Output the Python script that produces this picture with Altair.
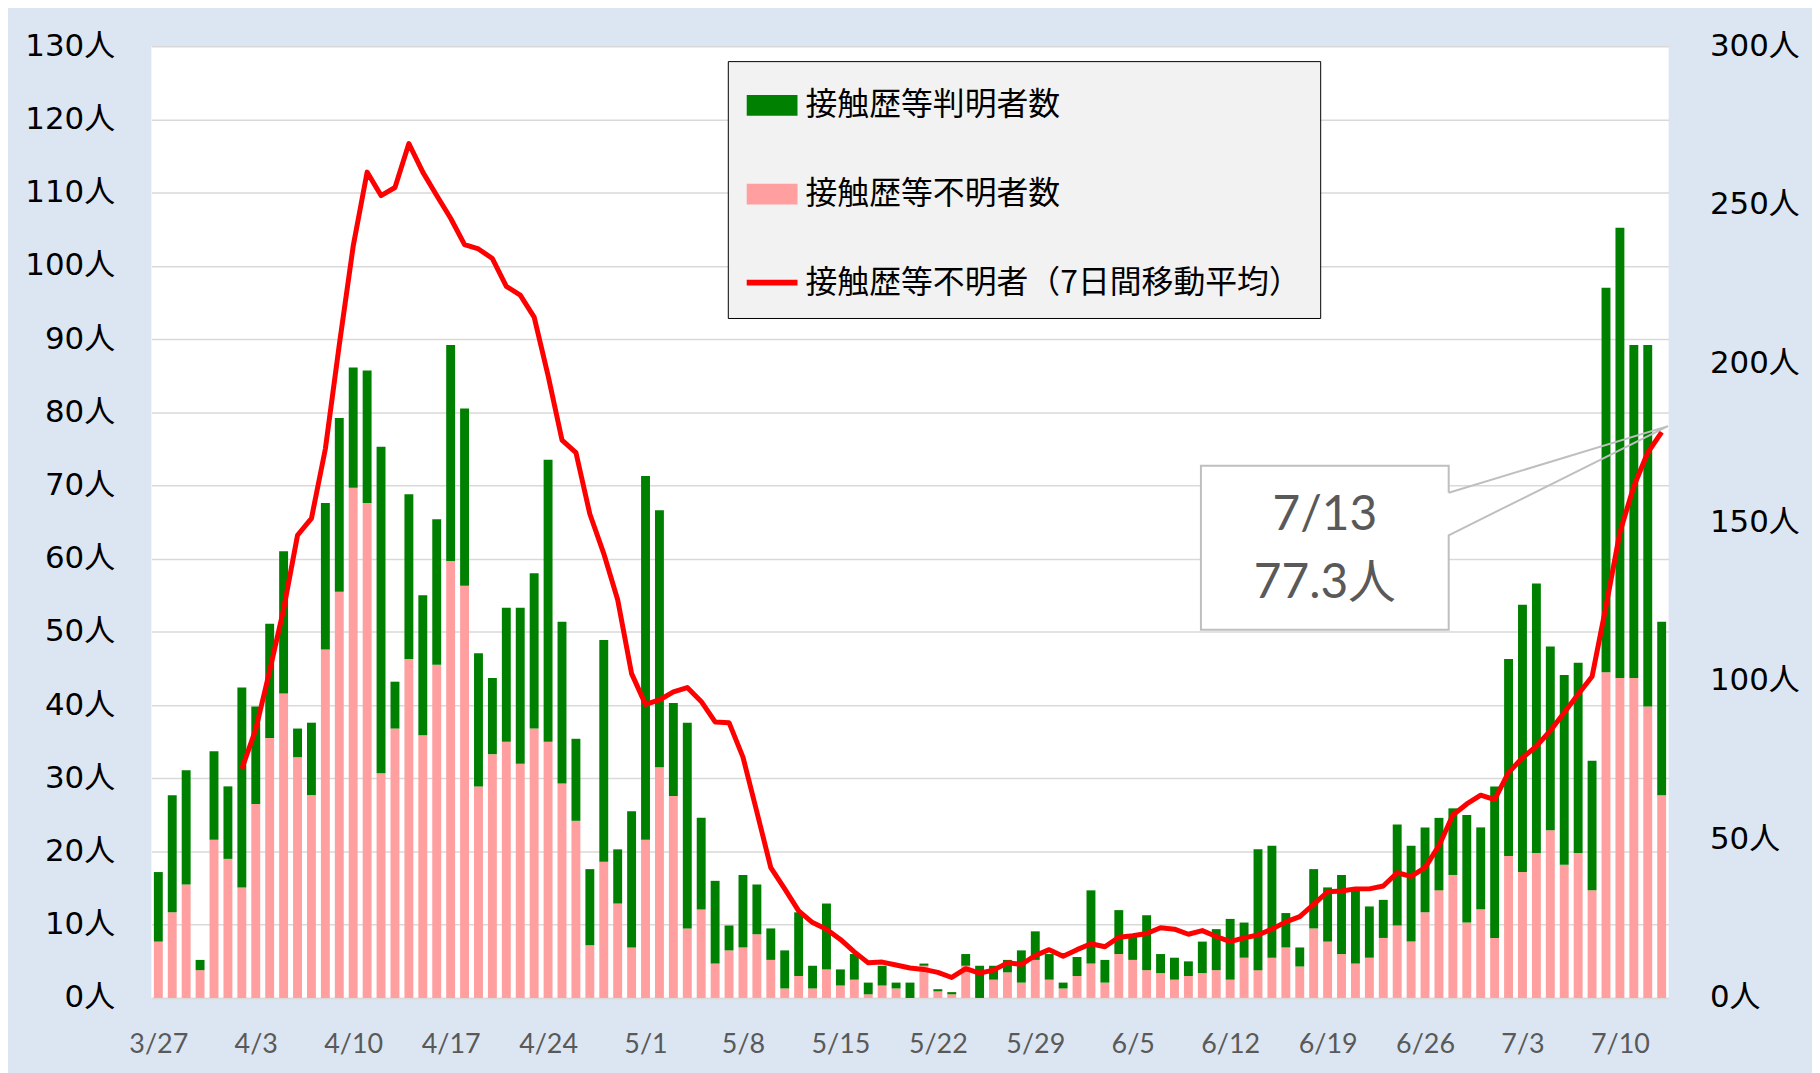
import altair as alt
import pandas as pd

# ---------------- data ----------------
dates = [f"{d.month}/{d.day}" for d in pd.date_range("2020-03-27", "2020-07-13", freq="D")]
tick_labels = dates[::7]

# 接触歴等不明者数 (pink, bottom of the stack)
unknown = [7.7, 11.7, 15.5, 3.8, 21.6, 19.0, 15.1, 26.5, 35.5, 41.6, 32.9, 27.7, 47.6, 55.5, 69.7, 67.6,
           30.7, 36.8, 46.3, 35.9, 45.5, 59.7, 56.3, 28.9, 33.3, 35.0, 32.0, 36.8, 35.0, 29.3, 24.2, 7.2,
           18.6, 12.9, 6.9, 21.6, 31.5, 27.6, 9.5, 12.1, 4.7, 6.5, 6.9, 8.7, 5.2, 1.3, 3.0, 1.3,
           3.9, 1.7, 2.5, 0.5, 1.7, 1.3, 0.0, 4.4, 0.9, 0.5, 4.4, 0.0, 2.5, 3.5, 2.1, 5.2, 2.5, 1.3,
           3.0, 4.7, 2.1, 6.0, 5.2, 3.8, 3.4, 2.5, 3.0, 3.4, 3.8, 2.5, 5.5, 3.8, 5.5, 6.9, 4.3, 9.5,
           7.7, 6.0, 4.7, 5.5, 8.2, 9.9, 7.7, 11.7, 14.7, 16.8, 10.3, 12.1, 8.2, 19.4, 17.2, 19.8, 22.9,
           18.2, 19.8, 14.7, 44.5, 43.7, 43.7, 39.8, 27.7]

# 接触歴等判明者数 (green, stacked on top)
known = [9.5, 16.0, 15.6, 1.4, 12.1, 9.9, 27.3, 13.3, 15.6, 19.4, 3.9, 9.9, 20.0, 23.7, 16.4, 18.1,
         44.6, 6.4, 22.5, 19.1, 19.9, 29.5, 24.2, 18.2, 10.4, 18.3, 21.3, 21.2, 38.5, 22.1, 11.2, 10.4,
         30.3, 7.4, 18.6, 49.7, 35.1, 12.7, 28.1, 12.5, 11.3, 3.4, 9.9, 6.8, 4.3, 5.2, 8.7, 3.1,
         9.0, 2.2, 3.5, 1.6, 2.7, 0.8, 2.1, 0.3, 0.3, 0.3, 1.6, 4.4, 1.9, 1.7, 4.4, 3.9, 3.5, 0.8,
         2.6, 10.0, 3.1, 6.0, 3.3, 7.5, 2.6, 3.0, 2.0, 4.3, 5.6, 8.3, 4.8, 16.5, 15.3, 4.7, 2.6, 8.1,
         7.4, 10.8, 10.0, 7.0, 5.2, 13.8, 13.1, 11.6, 9.9, 9.1, 14.7, 11.2, 20.7, 26.9, 36.5, 36.8, 25.1,
         25.9, 26.0, 17.7, 52.5, 61.5, 45.5, 49.4, 23.7]

# 7日間移動平均 (red line), starting 4/2
avg_start = 6
avg7 = [31.3, 36.7, 44.7, 53.1, 63.2, 65.5, 75.0, 89.2, 102.7, 112.8, 109.6, 110.7, 116.7, 112.8,
        109.6, 106.5, 102.9, 102.3, 101.0, 97.2, 96.0, 93.0, 85.0, 76.2, 74.5, 66.1, 60.7, 54.4,
        44.3, 40.1, 40.7, 41.8, 42.4, 40.5, 37.7, 37.6, 32.9, 25.4, 17.8, 14.9, 11.9, 10.3, 9.4,
        8.0, 6.3, 4.8, 4.9, 4.5, 4.1, 3.9, 3.5, 2.8, 4.0, 3.4, 3.8, 4.8, 4.6, 5.8, 6.6, 5.7, 6.6,
        7.4, 7.0, 8.3, 8.5, 8.8, 9.6, 9.4, 8.7, 9.2, 8.4, 7.7, 8.2, 8.6, 9.4, 10.4, 11.1, 12.8,
        14.5, 14.6, 14.9, 14.9, 15.3, 17.1, 16.6, 17.8, 20.8, 25.0, 26.5, 27.7, 27.1, 30.8, 32.8,
        34.4, 36.5, 39.0, 41.5, 43.9, 53.5, 63.6, 69.9, 74.5, 77.3]

left_ticks = list(range(0, 131, 10))
right_ticks = list(range(0, 301, 50))

KNOWN = "接触歴等判明者数"
UNKNOWN = "接触歴等不明者数"
AVG = "接触歴等不明者（7日間移動平均）"
series_names = [KNOWN, UNKNOWN, AVG]
series_colors = ["#008000", "#FF9F9F", "#FF0000"]

callout_date = "7/13"
callout_value = 77.3

# ---------------- tables ----------------
n = len(dates)
bar_rows = []
for i in range(n):
    bar_rows.append({"i": i, "date": dates[i], "series": UNKNOWN, "base": 0.0, "top": unknown[i]})
    bar_rows.append({"i": i, "date": dates[i], "series": KNOWN, "base": unknown[i],
                     "top": unknown[i] + known[i]})
bars_df = pd.DataFrame(bar_rows)

avg_df = pd.DataFrame({"i": list(range(avg_start, avg_start + len(avg7))),
                       "avg": avg7, "series": AVG})

# callout (placed in data units of the chart)
last_i = n - 1
cb = {"x0": 74.9, "x1": 92.7, "y0": 50.3, "y1": 72.7}
tip = (last_i + 0.45, callout_value + 0.8)
outline_pts = [(cb["x1"], 69.0), (cb["x1"], cb["y1"]), (cb["x0"], cb["y1"]), (cb["x0"], cb["y0"]),
               (cb["x1"], cb["y0"]), (cb["x1"], 63.2), tip, (cb["x1"], 69.0)]
outline_df = pd.DataFrame({"k": list(range(len(outline_pts))),
                           "x": [p[0] for p in outline_pts], "y": [p[1] for p in outline_pts]})
box_df = pd.DataFrame([cb])
cx = (cb["x0"] + cb["x1"]) / 2
text_df = pd.DataFrame({"x": [cx, cx], "y": [65.8, 56.6],
                        "t": [callout_date, f"{callout_value}人"]})
right_df = pd.DataFrame({"v": right_ticks})

# ---------------- styling ----------------
Y_FONT = "DejaVu Sans, Noto Sans CJK JP, sans-serif"
X_FONT = "Lato, Noto Sans CJK JP, sans-serif"
JP_FONT = "Noto Sans CJK JP, sans-serif"

xs = alt.Scale(domain=[-0.5, n - 0.5], nice=False, zero=False)
ys = alt.Scale(domain=[0, 130], nice=False)
cs = alt.Scale(domain=series_names, range=series_colors)

label_arr = "[" + ",".join(f"'{t}'" for t in tick_labels) + "]"
x_axis = alt.Axis(values=list(range(0, n, 7)), labelExpr=f"{label_arr}[round(datum.value/7)]",
                  title=None, grid=False, ticks=False, domain=True, domainColor="#D9D9D9",
                  domainWidth=1.5, labelFont=X_FONT, labelFontSize=27, labelColor="#595959",
                  labelPadding=34, labelOverlap=False, labelFlush=False)
y_axis = alt.Axis(orient="left", values=left_ticks, labelExpr="datum.value + '人'", title=None,
                  grid=True, gridColor="#D9D9D9", gridWidth=1.5, ticks=False, domain=False,
                  labelFont=Y_FONT, labelFontSize=31, labelColor="#000000", labelPadding=37)
y2_axis = alt.Axis(orient="right", values=right_ticks, labelExpr="datum.value + '人'", title=None,
                   grid=False, ticks=False, domain=False, labelFont=Y_FONT, labelFontSize=31,
                   labelColor="#000000", labelPadding=41)

is_avg = f"datum.value === '{AVG}'"
legend = alt.Legend(
    title=None, orient="none", legendX=579, legendY=15, direction="vertical",
    fillColor="#F2F2F2", strokeColor="#000000", padding=19,
    labelFont=JP_FONT, labelFontSize=32, labelColor="#000000", labelOffset=8, labelLimit=1000,
    symbolSize=2601, rowPadding=47, symbolStrokeWidth=0, symbolOpacity=1,
    symbolType={"expr": f"{is_avg} ? 'M-1,-0.11H1V0.11H-1Z' : 'M-1,-0.41H1V0.41H-1Z'"},
    symbolFillColor={"expr": f"{is_avg} ? '{series_colors[2]}' : (datum.value === '{KNOWN}' ? '{series_colors[0]}' : '{series_colors[1]}')"},
)

# ---------------- layers ----------------
bars = alt.Chart(bars_df).transform_calculate(
    x0="datum.i - 0.32", x1="datum.i + 0.32"
).mark_bar().encode(
    x=alt.X("x0:Q", scale=xs, axis=x_axis),
    x2="x1:Q",
    y=alt.Y("base:Q", scale=ys, axis=y_axis),
    y2="top:Q",
    color=alt.Color("series:N", scale=cs, legend=legend),
)

line = alt.Chart(avg_df).mark_line(strokeWidth=5, strokeJoin="round").encode(
    x=alt.X("i:Q", scale=xs, axis=x_axis),
    y=alt.Y("avg:Q", scale=ys, axis=y_axis),
    color=alt.Color("series:N", scale=cs, legend=legend),
)

box = alt.Chart(box_df).mark_rect(fill="white").encode(
    x=alt.X("x0:Q", scale=xs, axis=x_axis), x2="x1:Q",
    y=alt.Y("y0:Q", scale=ys, axis=y_axis), y2="y1:Q",
)

outline = alt.Chart(outline_df).mark_line(color="#BFBFBF", strokeWidth=2).encode(
    x=alt.X("x:Q", scale=xs, axis=x_axis),
    y=alt.Y("y:Q", scale=ys, axis=y_axis),
    order="k:Q",
)

texts = alt.Chart(text_df).mark_text(font=X_FONT, fontSize=48, color="#595959",
                                     align="center", baseline="middle").encode(
    x=alt.X("x:Q", scale=xs, axis=x_axis),
    y=alt.Y("y:Q", scale=ys, axis=y_axis),
    text="t:N",
)

main = alt.layer(bars, line, box, outline, texts)

right = alt.Chart(right_df).mark_point(opacity=0).encode(
    y=alt.Y("v:Q", scale=alt.Scale(domain=[0, 300], nice=False), axis=y2_axis),
)

chart = alt.layer(main, right).resolve_scale(y="independent").properties(
    width=1524, height=956,
    padding={"left": 144, "top": 36, "right": 144, "bottom": 73},
    autosize=alt.AutoSizeParams(type="none"),
    background="#DCE6F2",
).configure_view(fill="white", strokeWidth=0)

chart.save("out.html", embed_options={"renderer": "svg", "actions": False})
